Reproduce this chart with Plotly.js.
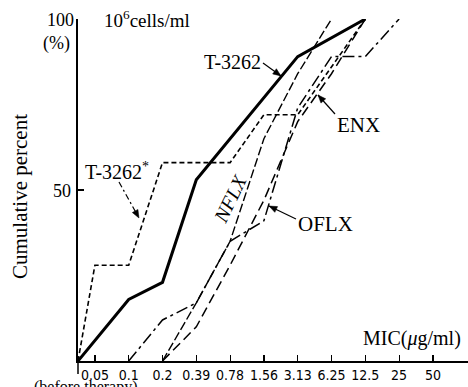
<!DOCTYPE html>
<html><head><meta charset="utf-8">
<script src="https://cdn.plot.ly/plotly-3.0.1.min.js"></script>
<style>html,body{margin:0;padding:0;background:#fff}</style>
</head><body><div id="chart" style="width:468px;height:387px"></div>
<script>
// MIC categories (tick labels); "0" = before therapy (origin)
const micLabels = ['0.05','0.1','0.2','0.39','0.78','1.56','3.13','6.25','12.5','25','50'];

// Series (MIC value -> cumulative percent)
const t3262Mic  = ['0','0.1','0.2','0.39','3.13','12.5'];
const t3262Pct  = [0, 18, 23, 53, 89, 100];

const t3262sMic = ['0','0.05','0.1','0.2','0.78','1.56','3.13','12.5'];
const t3262sPct = [0, 28, 28, 58, 58, 72, 72, 100];

const oflxMic = ['0.1','0.2','0.39','0.78','1.56','3.13','6.25','12.5','25'];
const oflxPct = [0, 12, 17, 35, 41, 74, 89, 89, 100];

const nflxMic = ['0.2','0.39','0.78','1.56','3.13','6.25'];
const nflxPct = [0, 17, 35, 65, 84, 100];

const enxMic = ['0.2','0.39','0.78','1.56','3.13','6.25','12.5'];
const enxPct = [0, 10, 28, 47, 70, 84, 100];

function pos(m){ return m === '0' ? -0.5 : micLabels.indexOf(m); }

// plot area in pixels
const L = 78, R = 468, T = 19, B = 361;
const px = x => (x - L) / (R - L);
const py = y => (B - y) / (B - T);

const serif = 'Liberation Serif';
const narrow = 'DejaVu Sans Condensed';

function tr(mics, pcts, dash, width){
  return {x: mics.map(pos), y: pcts, type:'scatter', mode:'lines',
    line:{color:'#000', width:width, dash:dash}, cliponaxis:false, hoverinfo:'skip', showlegend:false};
}

const data = [
  tr(t3262Mic, t3262Pct, 'solid', 3),
  tr(t3262sMic, t3262sPct, '5px,3px', 1.6),
  tr(oflxMic, oflxPct, '12px,4px,3px,4px', 1.5),
  tr(nflxMic, nflxPct, '9px,3px', 1.4),
  tr(enxMic, enxPct, '10px,5px', 1.5)
];

function txt(x, y, text, size, extra){
  return Object.assign({xref:'paper', yref:'paper', x:px(x), y:py(y), text:text, showarrow:false,
    font:{family:serif, size:size, color:'#000'}, xanchor:'center', yanchor:'middle'}, extra||{});
}

const shapes = [];
function arrow(x0, y0, x1, y1, dash){
  shapes.push({type:'line', xref:'paper', yref:'paper', x0:px(x0), y0:py(y0), x1:px(x1), y1:py(y1),
    line:{color:'#000', width:1.2, dash:dash||'solid'}});
  const dx = x1-x0, dy = y1-y0, len = Math.hypot(dx,dy), ux = dx/len, uy = dy/len;
  const hl = 8, hw = 3.2;
  const bx = x1-ux*hl, by = y1-uy*hl;
  const p1 = [bx - uy*hw, by + ux*hw], p2 = [bx + uy*hw, by - ux*hw];
  shapes.push({type:'path', xref:'paper', yref:'paper',
    path:`M${px(x1)},${py(y1)} L${px(p1[0])},${py(p1[1])} L${px(p2[0])},${py(p2[1])} Z`,
    fillcolor:'#000', line:{color:'#000', width:0.5}});
}
arrow(263, 63, 281, 76);            // T-3262
arrow(119, 182, 139, 218, '6px,3px,2px,3px'); // T-3262*
arrow(335, 114, 318, 95);           // ENX
arrow(296, 219, 269, 206);          // OFLX
shapes.push({type:'line', xref:'paper', yref:'paper', x0:px(78), y0:py(361), x1:px(78), y1:py(374),
   line:{color:'#000', width:1.5}});

const annotations = [
  txt(60, 20, '100', 18),
  txt(56, 43, '(%)', 18),
  txt(62, 191, '50', 18),
  txt(147, 19, '10<sup>6</sup>cells/ml', 19),
  txt(20, 197, 'Cumulative percent', 21, {textangle:-90}),
  txt(412, 338, 'MIC(<i>μ</i>g/ml)', 20),
  txt(86, 387, '(before therapy)', 16),
  txt(232, 62, 'T-3262', 20),
  txt(117, 171, 'T-3262<sup>*</sup>', 20),
  txt(358, 125, 'ENX', 21),
  txt(325, 224, 'OFLX', 21),
  txt(230, 199, '<i>NFLX</i>', 20, {textangle:-64})
];

const layout = {
  width:468, height:387, margin:{l:L, r:0, t:T, b:387-B},
  font:{family:serif, color:'#000'},
  paper_bgcolor:'#fff', plot_bgcolor:'#fff',
  xaxis:{range:[-0.5, -0.5 + (R-L)/33.8], tickmode:'array', tickvals:micLabels.map((m,i)=>i), ticktext:micLabels,
    ticks:'inside', ticklen:6, tickwidth:1.2, tickcolor:'#000', showline:true, linecolor:'#000', linewidth:1.8,
    showgrid:false, zeroline:false, tickfont:{family:narrow, size:14, color:'#000'}, fixedrange:true},
  yaxis:{range:[0,100], tickmode:'array', tickvals:[50,100], showticklabels:false,
    ticks:'inside', ticklen:6, tickwidth:1.5, tickcolor:'#000', showline:true, linecolor:'#000', linewidth:1.8,
    showgrid:false, zeroline:false, fixedrange:true},
  annotations:annotations, shapes:shapes, showlegend:false
};

Plotly.newPlot('chart', data, layout, {staticPlot:true, displayModeBar:false});
</script></body></html>
